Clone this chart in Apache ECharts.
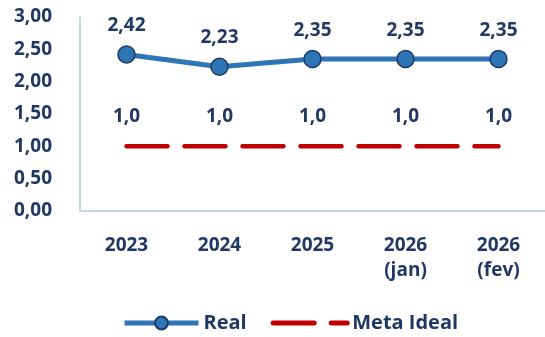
<!DOCTYPE html>
<html>
<head>
<meta charset="utf-8">
<script src="https://cdn.jsdelivr.net/npm/echarts@6/dist/echarts.min.js"></script>
<style>
  html, body { margin: 0; padding: 0; background: #fff; }
  #chart { width: 545px; height: 337px; }
</style>
</head>
<body>
<div id="chart"></div>
<script>
// dados do gráfico
const categories = ["2023", "2024", "2025", "2026\n(jan)", "2026\n(fev)"];
const realValues = [2.42, 2.23, 2.35, 2.35, 2.35];
const metaValues = [1.0, 1.0, 1.0, 1.0, 1.0];
const yTicks = { min: 0, max: 3, interval: 0.5 };

const navy = "#1F3864";
const font = "Open Sans";
const fmt2 = (v) => v.toFixed(2).replace(".", ",");
const fmt1 = (v) => v.toFixed(1).replace(".", ",");

const chart = echarts.init(document.getElementById("chart"));
chart.setOption({
  animation: false,
  textStyle: { fontFamily: font, fontWeight: "bold", color: navy },
  grid: { left: 80, right: -5, top: 17, bottom: 126 },
  xAxis: {
    type: "category",
    data: categories,
    axisLine: { lineStyle: { color: "#BDD7EE", width: 2 } },
    axisTick: { show: false },
    axisLabel: { color: navy, fontFamily: font, fontSize: 19, fontWeight: "bold", margin: 22, lineHeight: 25 },
  },
  yAxis: {
    type: "value",
    min: yTicks.min,
    max: yTicks.max,
    interval: yTicks.interval,
    axisLine: { show: true, lineStyle: { color: "#BDD7EE", width: 2 } },
    axisTick: { show: false },
    splitLine: { show: false },
    axisLabel: { color: navy, fontFamily: font, fontSize: 19, fontWeight: "bold", margin: 28, formatter: fmt2 },
  },
  legend: {
    bottom: -1,
    left: 117,
    itemWidth: 74,
    itemHeight: 16,
    itemGap: 24,
    textStyle: { color: navy, fontFamily: font, fontSize: 20, fontWeight: "bold" },
    data: [
      { name: "Real", lineStyle: { width: 5 } },
      { name: "Meta Ideal", lineStyle: { width: 5 } },
    ],
  },
  series: [
    {
      name: "Real",
      type: "line",
      data: realValues,
      symbol: "circle",
      symbolSize: 17,
      lineStyle: { color: "#2E75B6", width: 5 },
      itemStyle: { color: "#2E75B6", borderColor: navy, borderWidth: 1.5 },
      label: {
        show: true,
        position: "top",
        distance: 10,
        color: navy,
        fontFamily: font,
        fontSize: 19,
        fontWeight: "bold",
        formatter: (p) => fmt2(p.value),
      },
      z: 3,
    },
    {
      name: "Meta Ideal",
      type: "line",
      data: metaValues,
      symbol: "circle",
      symbolSize: 1,
      lineStyle: { color: "#C00000", width: 4.5, type: [41, 17], cap: "round" },
      itemStyle: { color: "rgba(0,0,0,0)" },
      label: {
        show: true,
        position: "top",
        distance: 20,
        color: navy,
        fontFamily: font,
        fontSize: 19,
        fontWeight: "bold",
        formatter: (p) => fmt1(p.value),
      },
      z: 2,
    },
  ],
});
</script>
</body>
</html>
